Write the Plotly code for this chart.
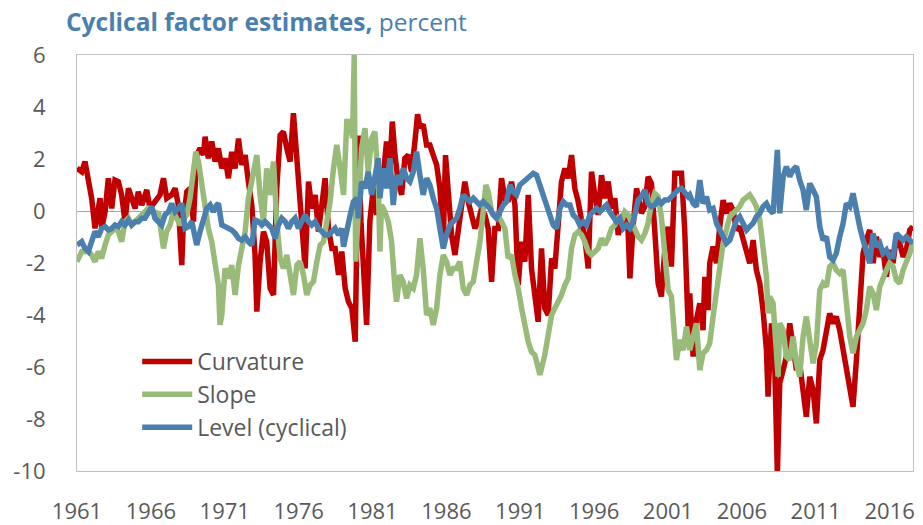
import plotly.graph_objects as go

# ---------------- data ----------------
curv_year = [1961.00,1961.32,1961.54,1961.77,1961.99,1962.22,1962.44,1962.56,1962.67,1962.90,
             1963.12,1963.35,1963.57,1963.80,1964.02,1964.25,1964.48,1964.70,1964.93,1965.15,
             1965.38,1965.72,1965.94,1966.28,1966.62,1966.85,1967.07,1967.41,1967.64,1967.86,
             1968.09,1968.20,1968.43,1968.65,1968.88,1969.10,1969.33,1969.56,1969.67,1969.89,
             1970.12,1970.35,1970.57,1970.80,1971.02,1971.25,1971.47,1971.70,1971.93,1972.15,
             1972.38,1972.60,1972.83,1973.05,1973.17,1973.39,1973.62,1973.84,1974.07,1974.30,
             1974.52,1974.75,1974.97,1975.20,1975.42,1975.65,1975.88,1976.10,1976.33,1976.44,
             1976.67,1976.89,1977.12,1977.34,1977.57,1977.79,1978.02,1978.25,1978.47,1978.70,
             1978.92,1979.15,1979.37,1979.60,1979.83,1980.04,
             1980.22,1980.37,1980.60,1980.82,1981.05,1981.28,1981.50,1981.73,1981.95,1982.18,
             1982.34,1982.52,1982.74,1982.97,1983.19,1983.42,1983.64,1983.87,1984.05,1984.21,
             1984.43,1984.66,1984.88,1985.11,1985.34,1985.56,1985.79,1985.94,1986.12,1986.35,
             1986.58,1986.80,1987.03,1987.25,1987.48,1987.70,1987.93,1988.15,1988.38,1988.61,
             1988.83,1989.06,1989.28,1989.51,1989.73,1989.96,1990.18,1990.41,1990.64,1990.86,
             1991.09,1991.31,1991.54,1991.76,1991.99,1992.21,1992.44,1992.66,1992.89,1993.12,
             1993.34,1993.57,1993.79,1994.02,1994.24,1994.47,1994.69,1994.92,1995.15,1995.37,
             1995.60,1995.82,1996.05,1996.27,1996.50,1996.72,1996.95,1997.18,1997.40,1997.63,
             1997.85,1998.08,1998.30,1998.42,1998.64,1998.87,
             1999.20,1999.43,1999.65,1999.88,2000.10,2000.33,2000.55,2000.78,2001.01,2001.23,
             2001.46,2001.68,2001.91,2002.13,2002.25,2002.36,2002.47,2002.58,2002.70,2002.92,
             2003.15,2003.37,2003.49,2003.71,2003.82,2004.05,2004.28,2004.50,2004.73,2004.95,
             2005.18,2005.40,2005.63,2005.85,2006.08,2006.31,2006.53,2006.76,2006.98,2007.21,
             2007.43,2007.66,2007.77,2008.00,2008.22,2008.40,2008.56,2008.79,2009.01,2009.24,
             2009.46,2009.69,2009.91,2010.14,2010.36,2010.59,2010.82,2011.04,2011.27,2011.49,
             2011.72,2011.94,2012.17,2012.39,2012.62,2012.85,2013.07,2013.30,2013.52,2013.75,
             2013.97,2014.20,2014.42,2014.65,2014.88,2015.10,2015.33,2015.55,2015.78,2016.00,
             2016.23,2016.45,2016.68,2016.91,2017.13,2017.36,2017.58]
curv_val = [1.64,1.51,1.90,1.13,0.49,-0.67,-0.03,0.49,-0.67,-0.03,
            1.26,0.10,1.19,1.13,0.62,-0.41,0.87,0.49,0.10,0.74,
            0.23,0.81,0.10,0.36,0.62,1.26,0.49,0.62,0.87,0.23,
            -2.08,-0.41,0.74,0.87,-0.41,2.15,2.41,2.15,2.86,2.03,
            2.67,1.90,2.41,1.64,2.03,1.26,2.28,1.64,2.79,1.77,
            2.15,1.13,0.23,-1.69,-3.87,-1.95,-0.79,-1.18,-2.97,-3.23,
            0.87,2.92,3.05,2.41,1.90,3.76,2.03,0.62,-1.18,-2.21,
            1.13,0.10,0.62,-0.79,0.23,1.26,-0.67,-1.44,-1.44,-2.46,
            -1.56,-2.97,-3.49,-3.74,-5.03,2.90,
            -0.41,-1.95,-4.38,-0.41,0.87,-0.15,1.13,1.38,2.67,1.77,
            3.44,2.15,1.13,0.62,2.03,2.15,1.51,2.67,3.72,3.21,
            3.33,2.54,2.54,2.15,1.77,0.87,-1.18,2.15,0.62,-0.92,
            -1.69,-0.67,-0.03,1.13,0.36,-0.15,-0.67,-0.41,0.10,-0.15,
            -0.67,-2.72,-0.67,-0.67,1.26,0.49,0.36,1.13,0.23,-2.85,
            -1.18,-1.95,0.62,-2.21,-3.49,-4.26,-1.44,-3.74,-4.00,-1.82,
            -2.21,-0.67,1.13,1.64,1.26,2.15,0.87,0.36,-0.41,-1.05,
            -2.21,1.51,0.62,-0.15,1.38,0.49,1.13,0.10,0.49,-0.92,
            -0.41,-0.03,-0.79,-2.59,-0.54,0.87,
            -0.09,0.17,1.32,1.06,-0.73,-2.78,-3.29,-1.50,-0.60,-2.14,
            1.45,1.45,1.45,-0.73,-3.29,-4.45,-3.17,-4.06,-5.60,-4.19,
            -3.55,-4.58,-2.53,-3.81,-2.01,-1.37,-2.01,-0.60,0.42,-0.09,
            0.29,0.04,-0.73,-0.60,-1.12,-1.50,-2.01,-1.12,-2.27,-2.78,
            -3.81,-5.35,-7.14,-4.32,-5.86,-10.09,-6.63,-6.12,-5.60,-4.32,
            -5.22,-6.12,-5.86,-7.01,-7.91,-6.37,-6.89,-8.17,-5.73,-5.35,
            -4.58,-3.94,-4.32,-4.06,-4.58,-5.35,-6.12,-6.63,-7.53,-5.73,
            -3.55,-1.63,-1.12,-0.73,-2.01,-0.99,-1.76,-1.50,-2.53,-1.50,
            -2.01,-0.99,-1.24,-1.76,-1.50,-0.73,-0.60]

slope_year = [1961.00,1961.32,1961.54,1961.77,1961.99,1962.22,1962.44,1962.67,1962.90,1963.12,
              1963.35,1963.57,1963.80,1964.02,1964.25,1964.48,1964.70,1964.93,1965.15,1965.38,
              1965.60,1965.83,1966.06,1966.28,1966.51,1966.73,1966.85,1967.07,1967.30,1967.52,
              1967.75,1967.98,1968.20,1968.43,1968.65,1968.88,1969.04,1969.22,1969.44,1969.67,
              1969.89,1970.12,1970.35,1970.57,1970.68,1970.80,1971.02,1971.25,1971.47,1971.70,
              1971.93,1972.15,1972.38,1972.60,1972.83,1973.05,1973.17,1973.39,1973.62,1973.84,
              1974.07,1974.30,1974.52,1974.75,1974.97,1975.20,1975.42,1975.65,1975.88,1976.10,
              1976.33,1976.55,1976.78,1977.00,1977.23,1977.46,1977.68,1977.91,1978.13,1978.36,
              1978.58,1978.81,1979.04,1979.26,1979.49,1979.65,1979.76,1979.86,
              1980.04,1980.26,1980.49,1980.71,1980.94,1981.16,1981.39,1981.50,1981.61,1981.84,
              1982.07,1982.29,1982.52,1982.63,1982.85,1983.08,1983.31,1983.53,1983.76,1983.98,
              1984.21,1984.43,1984.66,1984.88,1985.11,1985.34,1985.56,1985.79,1986.01,1986.24,
              1986.46,1986.69,1986.91,1987.14,1987.37,1987.59,1987.82,1988.04,1988.27,1988.49,
              1988.67,1988.83,1989.06,1989.28,1989.51,1989.73,1989.96,1990.18,1990.41,1990.64,
              1990.86,1991.09,1991.31,1991.54,1991.76,1991.99,1992.33,1992.66,1992.89,1993.12,
              1993.34,1993.57,1993.79,1994.02,1994.24,1994.47,1994.69,1994.92,1995.15,1995.37,
              1995.60,1995.82,1996.05,1996.27,1996.50,1996.72,1996.95,1997.18,1997.40,1997.63,
              1997.85,1998.08,1998.30,1998.53,1998.75,
              1998.98,1999.20,1999.43,1999.65,1999.88,2000.10,2000.33,2000.55,2000.78,2001.01,
              2001.23,2001.34,2001.46,2001.57,2001.79,2002.02,2002.25,2002.47,2002.70,2002.92,
              2003.15,2003.37,2003.60,2003.82,2004.05,2004.28,2004.50,2004.73,2004.95,2005.18,
              2005.40,2005.63,2005.85,2006.08,2006.31,2006.53,2006.76,2006.98,2007.21,2007.43,
              2007.66,2007.77,2007.88,2008.11,2008.33,2008.45,2008.56,2008.79,2009.01,2009.24,
              2009.46,2009.69,2009.91,2010.14,2010.36,2010.59,2010.82,2011.04,2011.27,2011.49,
              2011.72,2011.94,2012.17,2012.39,2012.62,2012.85,2013.07,2013.30,2013.52,2013.75,
              2013.97,2014.20,2014.42,2014.65,2014.88,2015.10,2015.33,2015.55,2015.78,2016.00,
              2016.23,2016.45,2016.68,2016.91,2017.13,2017.36,2017.58]
slope_val = [-1.95,-1.56,-1.56,-1.56,-1.69,-1.95,-1.56,-1.82,-1.31,-0.92,
             -0.79,-0.67,-0.79,-1.18,-0.41,-0.28,-0.54,-0.41,-0.28,-0.15,
             -0.03,0.10,0.04,-0.15,-0.03,-0.92,-1.44,-0.79,-0.54,-0.03,
             -0.28,-0.54,-0.28,-0.15,0.49,1.64,2.28,1.90,1.00,0.23,
             -0.67,-1.18,-2.21,-2.85,-4.38,-4.00,-2.21,-2.59,-2.08,-3.23,
             -2.08,-1.44,-0.79,0.49,1.26,2.03,2.15,0.62,-0.41,1.64,
             0.62,1.90,-0.41,-1.82,-2.21,-1.69,-2.46,-3.23,-2.08,-1.95,
             -2.46,-3.23,-2.85,-2.72,-1.95,-1.31,-1.18,-0.41,0.36,1.64,
             2.54,1.64,0.62,3.44,3.44,2.80,6.00,-1.95,
             0.49,2.41,3.18,1.51,2.79,3.05,1.13,-1.56,0.23,-0.03,
             -0.41,-1.18,-2.97,-3.49,-2.46,-2.72,-3.36,-2.85,-2.97,-2.46,
             -1.05,-2.21,-4.00,-3.74,-4.38,-3.74,-2.46,-1.69,-1.95,-2.46,
             -2.21,-2.21,-1.95,-2.97,-3.23,-2.85,-2.72,-1.95,-1.18,-0.03,
             1.00,0.74,-0.03,-0.15,-0.15,-0.41,-0.67,-1.82,-1.69,-2.46,
             -2.97,-3.74,-4.51,-5.03,-5.41,-5.54,-6.30,-5.54,-4.77,-4.00,
             -3.74,-3.49,-3.23,-2.85,-2.59,-1.44,-0.92,-0.79,-0.92,-1.18,
             -1.56,-1.69,-1.56,-1.44,-1.05,-1.31,-1.05,-0.67,-0.54,-0.28,
             -0.41,-0.03,-0.15,-0.41,-0.67,
             -0.99,-1.12,-0.86,-0.47,0.29,0.68,0.55,-0.22,-1.76,-3.04,
             -3.29,-4.06,-4.96,-5.73,-4.96,-5.35,-4.45,-5.35,-4.83,-4.32,
             -6.12,-5.47,-5.35,-5.09,-4.06,-3.04,-1.88,-1.24,-0.73,-0.22,
             -0.09,0.04,0.17,0.42,0.55,0.62,0.42,0.17,-0.35,-1.50,
             -2.53,-3.94,-3.29,-3.55,-5.86,-6.37,-4.32,-4.58,-5.60,-5.73,
             -4.83,-5.86,-6.37,-4.83,-4.06,-5.09,-5.86,-5.09,-3.04,-2.78,
             -2.91,-2.14,-2.01,-2.27,-2.40,-2.27,-3.55,-4.83,-5.47,-4.83,
             -4.58,-4.32,-3.81,-2.91,-3.17,-3.81,-2.91,-2.53,-2.27,-2.01,
             -2.14,-2.65,-2.78,-2.27,-2.01,-1.63,-1.18]

level_year = [1961.00,1961.32,1961.54,1961.77,1961.99,1962.22,1962.44,1962.67,1962.90,1963.12,
              1963.35,1963.57,1963.80,1964.02,1964.25,1964.48,1964.70,1964.93,1965.15,1965.38,
              1965.60,1965.83,1966.06,1966.28,1966.51,1966.73,1966.96,1967.19,1967.41,1967.64,
              1967.86,1968.09,1968.31,1968.54,1968.77,1968.99,1969.10,1969.33,1969.56,1969.78,
              1970.01,1970.23,1970.46,1970.57,1970.80,1971.02,1971.25,1971.47,1971.70,1971.93,
              1972.15,1972.38,1972.60,1972.83,1973.05,1973.28,1973.51,1973.73,1973.96,1974.18,
              1974.41,1974.63,1974.86,1975.09,1975.31,1975.54,1975.76,1975.99,1976.21,1976.44,
              1976.67,1976.89,1977.12,1977.34,1977.57,1977.79,1978.02,1978.25,1978.47,1978.70,
              1978.92,1979.04,1979.26,1979.49,1979.71,1979.94,
              1980.04,1980.26,1980.49,1980.71,1980.94,1981.16,1981.39,1981.50,1981.73,1981.95,
              1982.18,1982.40,1982.63,1982.85,1983.08,1983.31,1983.53,1983.76,1983.98,1984.21,
              1984.43,1984.66,1984.88,1985.11,1985.34,1985.56,1985.79,1986.01,1986.24,1986.46,
              1986.69,1986.91,1987.14,1987.37,1987.59,1987.82,1988.04,1988.27,1988.49,1988.72,
              1988.94,1989.17,1989.39,1989.62,1989.85,1990.07,1990.30,1990.52,1990.75,1990.97,
              1991.20,1991.42,1991.65,1991.88,1992.10,1992.33,1992.55,1992.78,1993.00,1993.23,
              1993.45,1993.68,1993.91,1994.13,1994.36,1994.58,1994.81,1995.03,1995.26,1995.48,
              1995.71,1995.94,1996.16,1996.39,1996.61,1996.84,1997.06,1997.29,1997.51,1997.74,
              1997.97,1998.19,1998.42,1998.64,1998.87,
              1998.98,1999.20,1999.43,1999.65,1999.88,2000.10,2000.33,2000.55,2000.78,2001.01,
              2001.23,2001.46,2001.68,2001.91,2002.13,2002.36,2002.47,2002.70,2002.92,2003.15,
              2003.37,2003.60,2003.82,2004.05,2004.28,2004.50,2004.73,2004.95,2005.18,2005.40,
              2005.63,2005.85,2006.08,2006.31,2006.53,2006.76,2006.98,2007.21,2007.43,2007.66,
              2007.88,2008.11,2008.22,2008.40,2008.56,2008.79,2009.01,2009.24,2009.46,2009.69,
              2009.91,2010.14,2010.36,2010.59,2010.82,2011.04,2011.27,2011.49,2011.72,2011.94,
              2012.17,2012.39,2012.62,2012.85,2013.07,2013.30,2013.52,2013.75,2013.97,2014.20,
              2014.42,2014.65,2014.88,2015.10,2015.33,2015.55,2015.78,2016.00,2016.23,2016.45,
              2016.68,2016.91,2017.13,2017.36,2017.58]
level_val = [-1.31,-1.18,-1.44,-1.56,-1.18,-0.79,-0.99,-0.67,-0.60,-0.73,
             -0.67,-0.54,-0.60,-0.41,-0.54,-0.35,-0.54,-0.41,-0.41,-0.28,
             -0.28,-0.03,0.17,-0.28,-0.41,-0.54,-0.15,-0.03,0.29,-0.03,
             0.10,0.29,-0.67,-0.60,-0.41,-0.92,-1.31,-0.79,-0.28,0.10,
             0.23,-0.03,0.23,0.29,-0.54,-0.60,-0.67,-0.73,-0.86,-1.05,
             -1.12,-0.99,-1.18,-1.31,-0.35,-0.41,-0.54,-0.41,-0.54,-0.67,
             -1.05,-0.54,-0.28,-0.41,-0.67,-0.41,-0.28,-0.67,-0.41,-0.15,
             -0.41,-0.54,-0.41,-0.67,-0.79,-0.92,-0.92,-0.79,-0.67,-0.92,
             -0.67,-1.37,-0.67,-0.15,0.36,0.49,
             -0.28,1.13,0.87,1.51,0.62,1.38,2.03,0.49,1.64,0.87,
             2.03,0.23,1.38,1.00,1.64,1.26,1.13,1.51,2.28,1.38,
             0.62,1.26,1.00,0.49,0.10,-0.67,-1.44,-0.92,-0.54,-0.41,
             -0.28,0.10,0.62,0.49,0.36,0.49,0.36,0.23,0.36,0.23,
             0.10,-0.15,-0.28,-0.03,0.23,0.36,1.00,0.74,0.62,1.00,
             1.13,1.26,1.38,1.45,1.38,1.00,0.62,0.36,-0.15,-0.54,
             -0.67,0.10,0.36,0.23,0.23,-0.15,-0.28,-0.54,-0.41,-0.54,
             -0.15,-0.03,0.10,-0.03,0.10,0.23,-0.03,-0.28,-0.41,-0.28,
             -0.67,-0.54,-0.67,-0.41,0.10,
             0.42,0.55,0.81,0.29,0.17,0.23,0.42,0.29,0.42,0.42,
             0.55,0.62,0.81,0.87,0.74,0.55,0.62,0.29,0.17,1.19,
             0.29,0.55,0.04,0.10,-0.47,-0.73,-0.99,-1.24,-1.12,-0.73,
             -0.35,-0.22,-0.47,-0.73,-0.60,-0.47,-0.22,-0.09,0.17,0.29,
             0.04,-0.09,0.81,2.35,-0.09,1.32,1.71,1.32,1.58,1.71,
             1.19,0.81,0.04,1.06,0.81,0.55,-0.60,-1.12,-0.99,-1.76,
             -1.88,-1.63,-0.99,-0.47,0.29,0.17,0.68,-0.09,-0.60,-1.12,
             -1.50,-2.01,-0.86,-1.37,-1.24,-1.63,-1.50,-1.76,-1.76,-0.86,
             -0.99,-1.12,-0.99,-1.12,-1.24]

series_names = ["Curvature", "Slope", "Level (cyclical)"]
series_colors = ["#C00000", "#98BB7A", "#4A7FAE"]
year_ticks = list(range(1961, 2017, 5))
y_ticks = list(range(-10, 7, 2))
y_tick_text = [str(v) for v in y_ticks]   # plain hyphen-minus, as in the reference

FONT = "Open Sans, Noto Sans, sans-serif"
GREY = "#595959"

fig = go.Figure()
for name, xs, ys, col in zip(series_names,
                             [curv_year, slope_year, level_year],
                             [curv_val, slope_val, level_val],
                             series_colors):
    fig.add_trace(go.Scatter(x=xs, y=ys, mode="lines", name=name,
                             line=dict(color=col, width=5.5)))

fig.update_layout(
    width=923, height=525,
    margin=dict(l=77, r=10, t=55, b=54, autoexpand=False),
    paper_bgcolor="white", plot_bgcolor="white",
    font=dict(family=FONT, size=22, color=GREY),
    title=dict(text="<b>Cyclical factor estimates,</b> percent",
               font=dict(family=FONT, size=24.5, color="#4A7FAE"),
               x=66/923, xanchor="left", xref="container",
               y=1-22/525, yanchor="middle", yref="container"),
    showlegend=True,
    legend=dict(x=0.072, y=0.315, xanchor="left", yanchor="top",
                bgcolor="rgba(0,0,0,0)", font=dict(size=23, color=GREY),
                itemwidth=50, tracegroupgap=0),
)
fig.update_xaxes(range=[1961, 2017.58], tickvals=year_ticks,
                 ticktext=[str(t) for t in year_ticks],
                 automargin=False,
                 showgrid=False, zeroline=False,
                 showline=True, linecolor="#BFBFBF", linewidth=1, mirror=True,
                 ticks="outside", ticklen=21, tickcolor="rgba(0,0,0,0)",
                 tickfont=dict(size=22, color=GREY))
fig.update_yaxes(range=[-10, 6], tickvals=y_ticks, ticktext=y_tick_text,
                 automargin=False,
                 showgrid=False, zeroline=True, zerolinecolor="#A6A6A6", zerolinewidth=1,
                 showline=True, linecolor="#BFBFBF", linewidth=1, mirror=True,
                 ticks="outside", ticklen=26, tickcolor="rgba(0,0,0,0)",
                 tickfont=dict(size=22, color=GREY))

# remove the page's default 8px body margin so the figure fills the window
fig.write_html("out.html",
               config={"displayModeBar": False},
               post_script="document.body.style.margin='0';document.body.style.overflow='hidden';")
